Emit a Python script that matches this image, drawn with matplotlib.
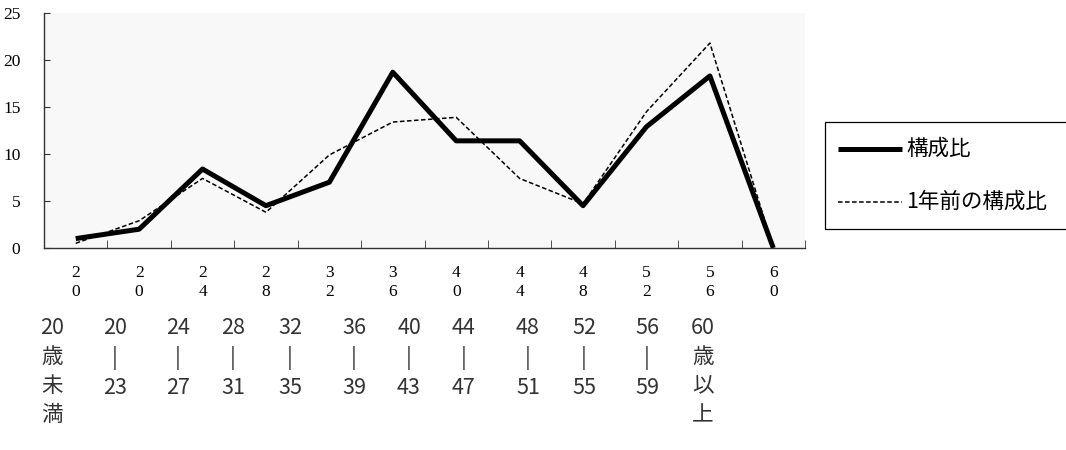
import numpy as np
import matplotlib
matplotlib.use('Agg')
import matplotlib.pyplot as plt
from matplotlib.lines import Line2D
from matplotlib.patches import Rectangle

# 年齢階層別の構成比 (%)
age_ticks = ['2\n0', '2\n0', '2\n4', '2\n8', '3\n2', '3\n6',
             '4\n0', '4\n4', '4\n8', '5\n2', '5\n6', '6\n0']
age_groups = ['20\n歳\n未\n満', '20\n|\n23', '24\n|\n27', '28\n|\n31',
              '32\n|\n35', '36\n|\n39', '40\n|\n43', '44\n|\n47',
              '48\n|\n51', '52\n|\n55', '56\n|\n59', '60\n歳\n以\n上']
share_now = [1.0, 2.0, 8.4, 4.5, 7.0, 18.7, 11.4, 11.4, 4.5, 12.9, 18.3, 0.0]
share_prev = [0.5, 2.9, 7.4, 3.8, 9.9, 13.4, 13.9, 7.4, 4.7, 14.5, 21.8, 0.0]
series_names = ['構成比', '1年前の構成比']

W, H = 1066, 450
jp = ['Noto Sans CJK JP', 'DejaVu Sans']
plt.rcParams['font.family'] = 'serif'
plt.rcParams['font.serif'] = ['Liberation Serif', 'DejaVu Serif']

fig = plt.figure(figsize=(W / 100, H / 100), dpi=100)
ax = fig.add_axes([44 / W, 1 - 248 / H, (805 - 44) / W, (248 - 13) / H])
ax.set_facecolor('#f8f8f8')

x = np.arange(len(share_now))
solid_style = dict(color='black', lw=3.6, solid_capstyle='butt')
dash_style = dict(color='black', lw=1.1, dashes=(3, 1.6))
ax.plot(x, share_now, **solid_style)
ax.plot(x, share_prev, **dash_style)

ax.set_yticks([0, 5, 10, 15, 20, 25])
ax.tick_params(axis='y', direction='in', length=4, color='#333333',
               pad=17, labelsize=12.5)

ax.set_xticks(x)
ax.set_xticklabels(age_ticks, linespacing=1.25)
ax.tick_params(axis='x', which='major', length=0, pad=12, labelsize=12.5)
ax.set_xticks(np.arange(0.5, len(x) - 0.5 + 0.01, 1.0), minor=True)
ax.tick_params(axis='x', which='minor', direction='in', length=6,
               color='#333333')
ax.set_xlim(-0.5, len(x) - 0.5)
ax.set_ylim(0, 25)

for s in ['top', 'right']:
    ax.spines[s].set_visible(False)
for s in ['left', 'bottom']:
    ax.spines[s].set_color('#333333')
    ax.spines[s].set_linewidth(1.0)

# 年齢階層のラベル (テキストボックス)
label_px = [52, 115, 178, 233, 290, 354, 409, 464, 528, 584, 647, 703]
for px, lab in zip(label_px, age_groups):
    fig.text(px / W, 1 - 317 / H, lab, ha='center', va='top',
             fontsize=15.5, family=jp, color='#333333', linespacing=1.41)

# 凡例 (右側の枠)
fig.patches.append(Rectangle((825 / W, 1 - 229 / H), 260 / W, 107 / H,
                             transform=fig.transFigure, fill=False,
                             edgecolor='black', lw=0.9))
leg_rows = [149, 202]
leg_styles = [solid_style, dash_style]
for yy, name, st in zip(leg_rows, series_names, leg_styles):
    fig.lines.append(Line2D([838 / W, 902 / W], [1 - yy / H, 1 - yy / H],
                            transform=fig.transFigure, **st))
    fig.text(906 / W, 1 - yy / H, name, ha='left', va='center',
             fontsize=15.5, family=jp, color='black')

fig.savefig('out.png', dpi=100, facecolor='white')
